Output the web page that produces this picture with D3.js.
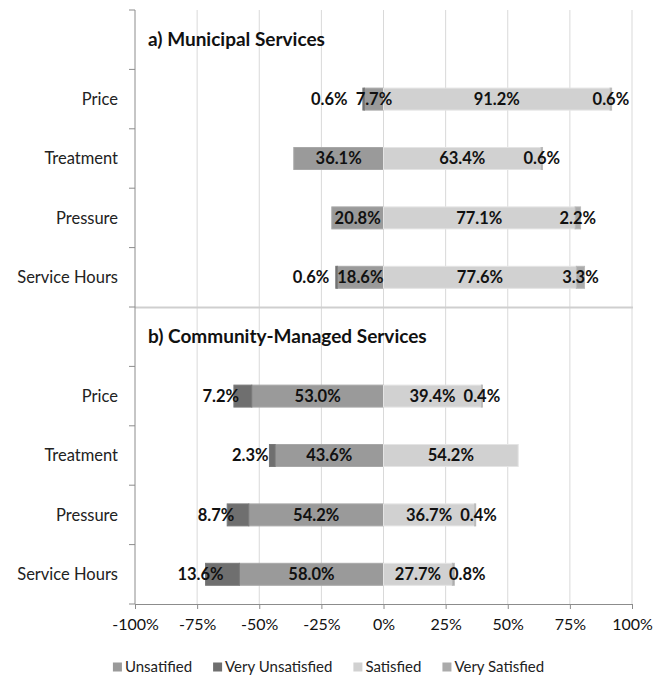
<!DOCTYPE html>
<html>
<head>
<meta charset="utf-8">
<script src="https://cdn.jsdelivr.net/npm/d3@7/dist/d3.min.js"></script>
<style>
  html, body { margin: 0; padding: 0; background: #fff; }
  svg { display: block; font-family: Lato, "Open Sans", sans-serif; }
</style>
</head>
<body>
<svg id="chart" width="655" height="677"></svg>
<script>
// ---- data ----
const categories = ["Price", "Treatment", "Pressure", "Service Hours"];
const panelTitles = ["a) Municipal Services", "b) Community-Managed Services"];
const seriesNames = ["Unsatified", "Very Unsatisfied", "Satisfied", "Very Satisfied"];

const municipalVeryUnsatisfied = [0.6, 0, 0, 0.6];
const municipalUnsatisfied     = [7.7, 36.1, 20.8, 18.6];
const municipalSatisfied       = [91.2, 63.4, 77.1, 77.6];
const municipalVerySatisfied   = [0.6, 0.6, 2.2, 3.3];

const communityVeryUnsatisfied = [7.2, 2.3, 8.7, 13.6];
const communityUnsatisfied     = [53.0, 43.6, 54.2, 58.0];
const communitySatisfied       = [39.4, 54.2, 36.7, 27.7];
const communityVerySatisfied   = [0.4, 0, 0.4, 0.8];

const xTickValues = [-100, -75, -50, -25, 0, 25, 50, 75, 100];

// ---- build rows ----
const panels = [
  { title: panelTitles[0], vu: municipalVeryUnsatisfied, u: municipalUnsatisfied, s: municipalSatisfied, vs: municipalVerySatisfied },
  { title: panelTitles[1], vu: communityVeryUnsatisfied, u: communityUnsatisfied, s: communitySatisfied, vs: communityVerySatisfied }
];
const rows = [];
panels.forEach((p, pi) => {
  rows.push({ key: "t" + pi, title: p.title, panel: pi });
  categories.forEach((c, ci) => {
    rows.push({ key: pi + "-" + c, cat: c, panel: pi,
      vu: p.vu[ci], u: p.u[ci], s: p.s[ci], vs: p.vs[ci] });
  });
});

const colors = {
  u: "#9a9a9a",
  vu: "#6f6f6f",
  s: "#d1d1d1",
  vs: "#ababab"
};
const legendColors = [colors.u, colors.vu, colors.s, colors.vs];

// ---- layout ----
const svg = d3.select("#chart");
const margin = { left: 135, right: 23, top: 10, bottom: 73 };
const W = 655, H = 677;
const x = d3.scaleLinear().domain([-100, 100]).range([margin.left, W - margin.right]);
const y = d3.scaleBand().domain(rows.map(r => r.key))
  .range([margin.top, H - margin.bottom]).paddingInner(0.63).paddingOuter(0.315);
const step = y.step();
const plotTop = margin.top, plotBottom = H - margin.bottom;

// gridlines
svg.append("g").selectAll("line").data(xTickValues.filter(v => v !== -100)).join("line")
  .attr("x1", d => x(d)).attr("x2", d => x(d))
  .attr("y1", plotTop).attr("y2", plotBottom)
  .attr("stroke", "#d9d9d9").attr("stroke-width", 1);

// panel separator
svg.append("line")
  .attr("x1", x(-100)).attr("x2", x(100) + 1)
  .attr("y1", y("t1") - (step - y.bandwidth()) / 2 + 0.5)
  .attr("y2", y("t1") - (step - y.bandwidth()) / 2 + 0.5)
  .attr("stroke", "#cfcfcf").attr("stroke-width", 2);

// bars
const barG = svg.append("g");
const labelG = svg.append("g");
const dataRows = rows.filter(r => r.cat);

function seg(r, key, x0, x1) {
  return { r, key, x0, x1, v: r[key] };
}
const segs = [];
dataRows.forEach(r => {
  segs.push(seg(r, "u", -r.u, 0));
  segs.push(seg(r, "vu", -r.u - r.vu, -r.u));
  segs.push(seg(r, "s", 0, r.s));
  segs.push(seg(r, "vs", r.s, r.s + r.vs));
});

barG.selectAll("rect").data(segs.filter(d => d.v > 0)).join("rect")
  .attr("x", d => x(d.x0))
  .attr("width", d => x(d.x1) - x(d.x0))
  .attr("y", d => y(d.r.key))
  .attr("height", y.bandwidth())
  .attr("fill", d => colors[d.key])
  .attr("stroke", d => d3.color(colors[d.key]).brighter(0.25))
  .attr("stroke-width", 1);

// labels
const labels = labelG.selectAll("text").data(segs.filter(d => d.v > 0)).join("text")
  .attr("x", d => (x(d.x0) + x(d.x1)) / 2)
  .attr("y", d => y(d.r.key) + y.bandwidth() / 2)
  .attr("dy", "0.35em")
  .attr("text-anchor", "middle")
  .attr("font-weight", "bold")
  .attr("font-size", 16.5)
  .attr("fill", "#111")
  .text(d => d.v.toFixed(1) + "%");

// collision handling for small outer segments
labels.each(function(d) { d.w = this.getComputedTextLength(); d.cx = +this.getAttribute("x"); });
const byRow = d3.group(segs.filter(d => d.v > 0), d => d.r.key);
const gap = 8;
labels.each(function(d) {
  const siblings = byRow.get(d.r.key);
  if (d.key === "vu") {
    const u = siblings.find(s => s.key === "u");
    let cx = d.cx - 22;
    const maxRight = u.cx - u.w / 2 - gap;
    if (cx + d.w / 2 > maxRight) cx = maxRight - d.w / 2;
    d3.select(this).attr("x", cx);
  } else if (d.key === "vs") {
    const s = siblings.find(t => t.key === "s");
    let cx = d.cx;
    const minLeft = s.cx + s.w / 2 + gap;
    if (cx - d.w / 2 < minLeft) cx = minLeft + d.w / 2;
    d3.select(this).attr("x", cx);
  }
});

// panel titles
svg.append("g").selectAll("text").data(rows.filter(r => r.title)).join("text")
  .attr("x", x(-100) + 13)
  .attr("y", d => y(d.key) + y.bandwidth() / 2)
  .attr("dy", "0.35em")
  .attr("font-weight", "bold")
  .attr("font-size", 19)
  .attr("fill", "#111")
  .text(d => d.title);

// left axis
const leftG = svg.append("g");
leftG.append("line")
  .attr("x1", x(-100)).attr("x2", x(-100))
  .attr("y1", plotTop).attr("y2", plotBottom)
  .attr("stroke", "#8c8c8c").attr("stroke-width", 1);
const boundaries = d3.range(rows.length + 1).map(i => plotTop + i * step);
leftG.selectAll("line.tk").data(boundaries).join("line").attr("class", "tk")
  .attr("x1", x(-100) - 6).attr("x2", x(-100))
  .attr("y1", d => d).attr("y2", d => d)
  .attr("stroke", "#8c8c8c").attr("stroke-width", 1);
leftG.selectAll("text").data(dataRows).join("text")
  .attr("x", x(-100) - 17)
  .attr("y", d => y(d.key) + y.bandwidth() / 2)
  .attr("dy", "0.35em")
  .attr("text-anchor", "end")
  .attr("font-size", 16.5)
  .attr("fill", "#222")
  .text(d => d.cat);

// bottom axis
const xAxis = d3.axisBottom(x).tickValues(xTickValues).tickSize(5).tickPadding(10)
  .tickFormat(d => d + "%");
const axG = svg.append("g").attr("transform", `translate(0,${plotBottom})`).call(xAxis);
axG.select(".domain").attr("stroke", "#8c8c8c").attr("d", `M${x(-100)},0.5H${x(100)}`);
axG.selectAll(".tick line").attr("stroke", "#8c8c8c");
axG.selectAll(".tick text").attr("font-size", 16).attr("fill", "#111")
  .attr("font-family", "Lato, sans-serif");

// legend
const legend = svg.append("g");
const items = legend.selectAll("g").data(seriesNames).join("g");
items.append("rect").attr("width", 9).attr("height", 9).attr("y", -4.5)
  .attr("fill", (d, i) => legendColors[i]);
items.append("text").attr("x", 12).attr("dy", "0.35em")
  .attr("font-size", 15).attr("fill", "#222").text(d => d);
const widths = [];
items.each(function() { widths.push(this.getBBox().width); });
const legendGap = 21;
const totalW = d3.sum(widths) + legendGap * (widths.length - 1);
let cur = (x(-100) + x(100)) / 2 - totalW / 2 - 55;
items.attr("transform", (d, i) => {
  const t = `translate(${cur},${H - 10})`;
  cur += widths[i] + legendGap;
  return t;
});
</script>
</body>
</html>
